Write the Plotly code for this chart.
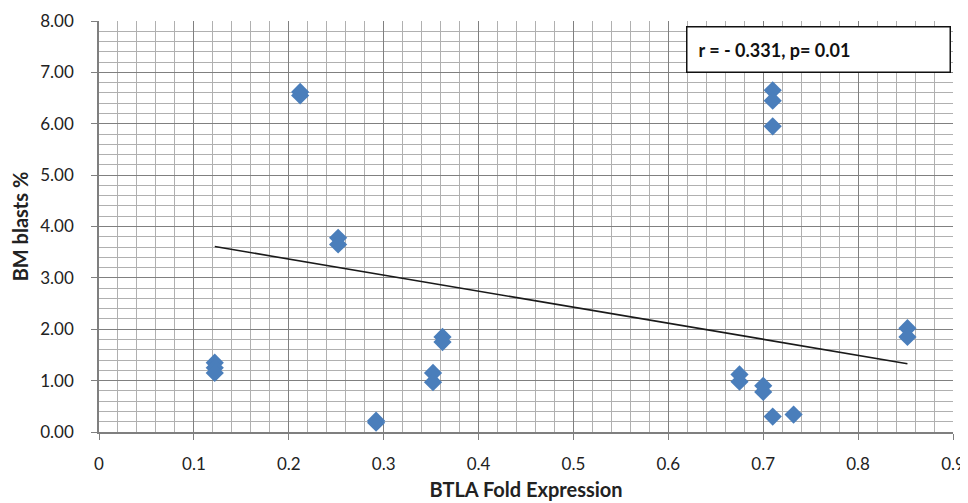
import plotly.graph_objects as go

# BTLA fold expression (x) vs BM blasts % (y)
btla_fold = [0.122, 0.122, 0.122,
             0.212, 0.212,
             0.252, 0.252,
             0.292, 0.292,
             0.352, 0.352,
             0.362, 0.362,
             0.675, 0.675,
             0.700, 0.700,
             0.710, 0.710, 0.710,
             0.710,
             0.732,
             0.852, 0.852]
bm_blasts = [1.35, 1.25, 1.15,
             6.62, 6.55,
             3.78, 3.65,
             0.22, 0.18,
             1.15, 0.97,
             1.85, 1.75,
             1.12, 0.98,
             0.90, 0.78,
             6.65, 6.45, 5.95,
             0.30,
             0.34,
             2.02, 1.85]

# Linear trendline as drawn (end points)
trend_x = [0.122, 0.852]
trend_y = [3.61, 1.33]

x_ticks = [0, 0.1, 0.2, 0.3, 0.4, 0.5, 0.6, 0.7, 0.8, 0.9]
x_tick_text = ["0", "0.1", "0.2", "0.3", "0.4", "0.5", "0.6", "0.7", "0.8", "0.9"]
y_ticks = [0, 1, 2, 3, 4, 5, 6, 7, 8]
y_tick_text = ["0.00", "1.00", "2.00", "3.00", "4.00", "5.00", "6.00", "7.00", "8.00"]

annotation_text = "r = - 0.331, p= 0.01"

FONT = "Lato, 'Open Sans', sans-serif"

fig = go.Figure()

fig.add_trace(go.Scatter(
    x=trend_x, y=trend_y, mode="lines",
    line=dict(color="#1a1a1a", width=1.6),
    showlegend=False, hoverinfo="skip",
))

fig.add_trace(go.Scatter(
    x=btla_fold, y=bm_blasts, mode="markers",
    marker=dict(symbol="diamond", size=14, color="#4A7EBB",
                line=dict(width=0)),
    showlegend=False,
))

# the page body has an 8px margin, so the figure is sized to fill the rest
fig.update_layout(
    width=960, height=495,
    margin=dict(l=91, r=15, t=13, b=71),
    paper_bgcolor="white", plot_bgcolor="white",
    font=dict(family=FONT, color="#222222", size=17),
    xaxis=dict(
        range=[0, 0.9], tickvals=x_ticks, ticktext=x_tick_text,
        automargin=False,
        showgrid=True, gridcolor="#808080", gridwidth=1.3,
        minor=dict(dtick=0.02, showgrid=True, gridcolor="#b0b0b0", gridwidth=1.2),
        showline=True, linecolor="#7f7f7f", linewidth=1.5,
        ticks="outside", ticklen=6, tickcolor="#7f7f7f", tickwidth=1.3,
        ticklabelstandoff=10,
        zeroline=False,
        title=dict(text="<b>BTLA Fold Expression</b>", font=dict(size=20, color="#222222"),
                   standoff=10),
    ),
    yaxis=dict(
        range=[0, 8], tickvals=y_ticks, ticktext=y_tick_text,
        automargin=False,
        showgrid=True, gridcolor="#808080", gridwidth=1.3,
        minor=dict(dtick=0.2, showgrid=True, gridcolor="#b0b0b0", gridwidth=1.2),
        showline=True, linecolor="#7f7f7f", linewidth=1.5,
        ticks="outside", ticklen=6, tickcolor="#7f7f7f", tickwidth=1.3,
        ticklabelstandoff=14,
        zeroline=False,
        title=dict(text="<b>BM blasts %</b>", font=dict(size=20, color="#222222"),
                   standoff=10),
    ),
    annotations=[dict(
        xref="x", yref="y", x=0.619, y=7.45, xanchor="left", yanchor="middle",
        text="<b>" + annotation_text + "</b>", showarrow=False,
        font=dict(size=18, color="#111111"),
        bgcolor="white", bordercolor="#111111", borderwidth=1.5,
        borderpad=11, width=240, align="left",
    )],
)

fig.write_html("out.html")
